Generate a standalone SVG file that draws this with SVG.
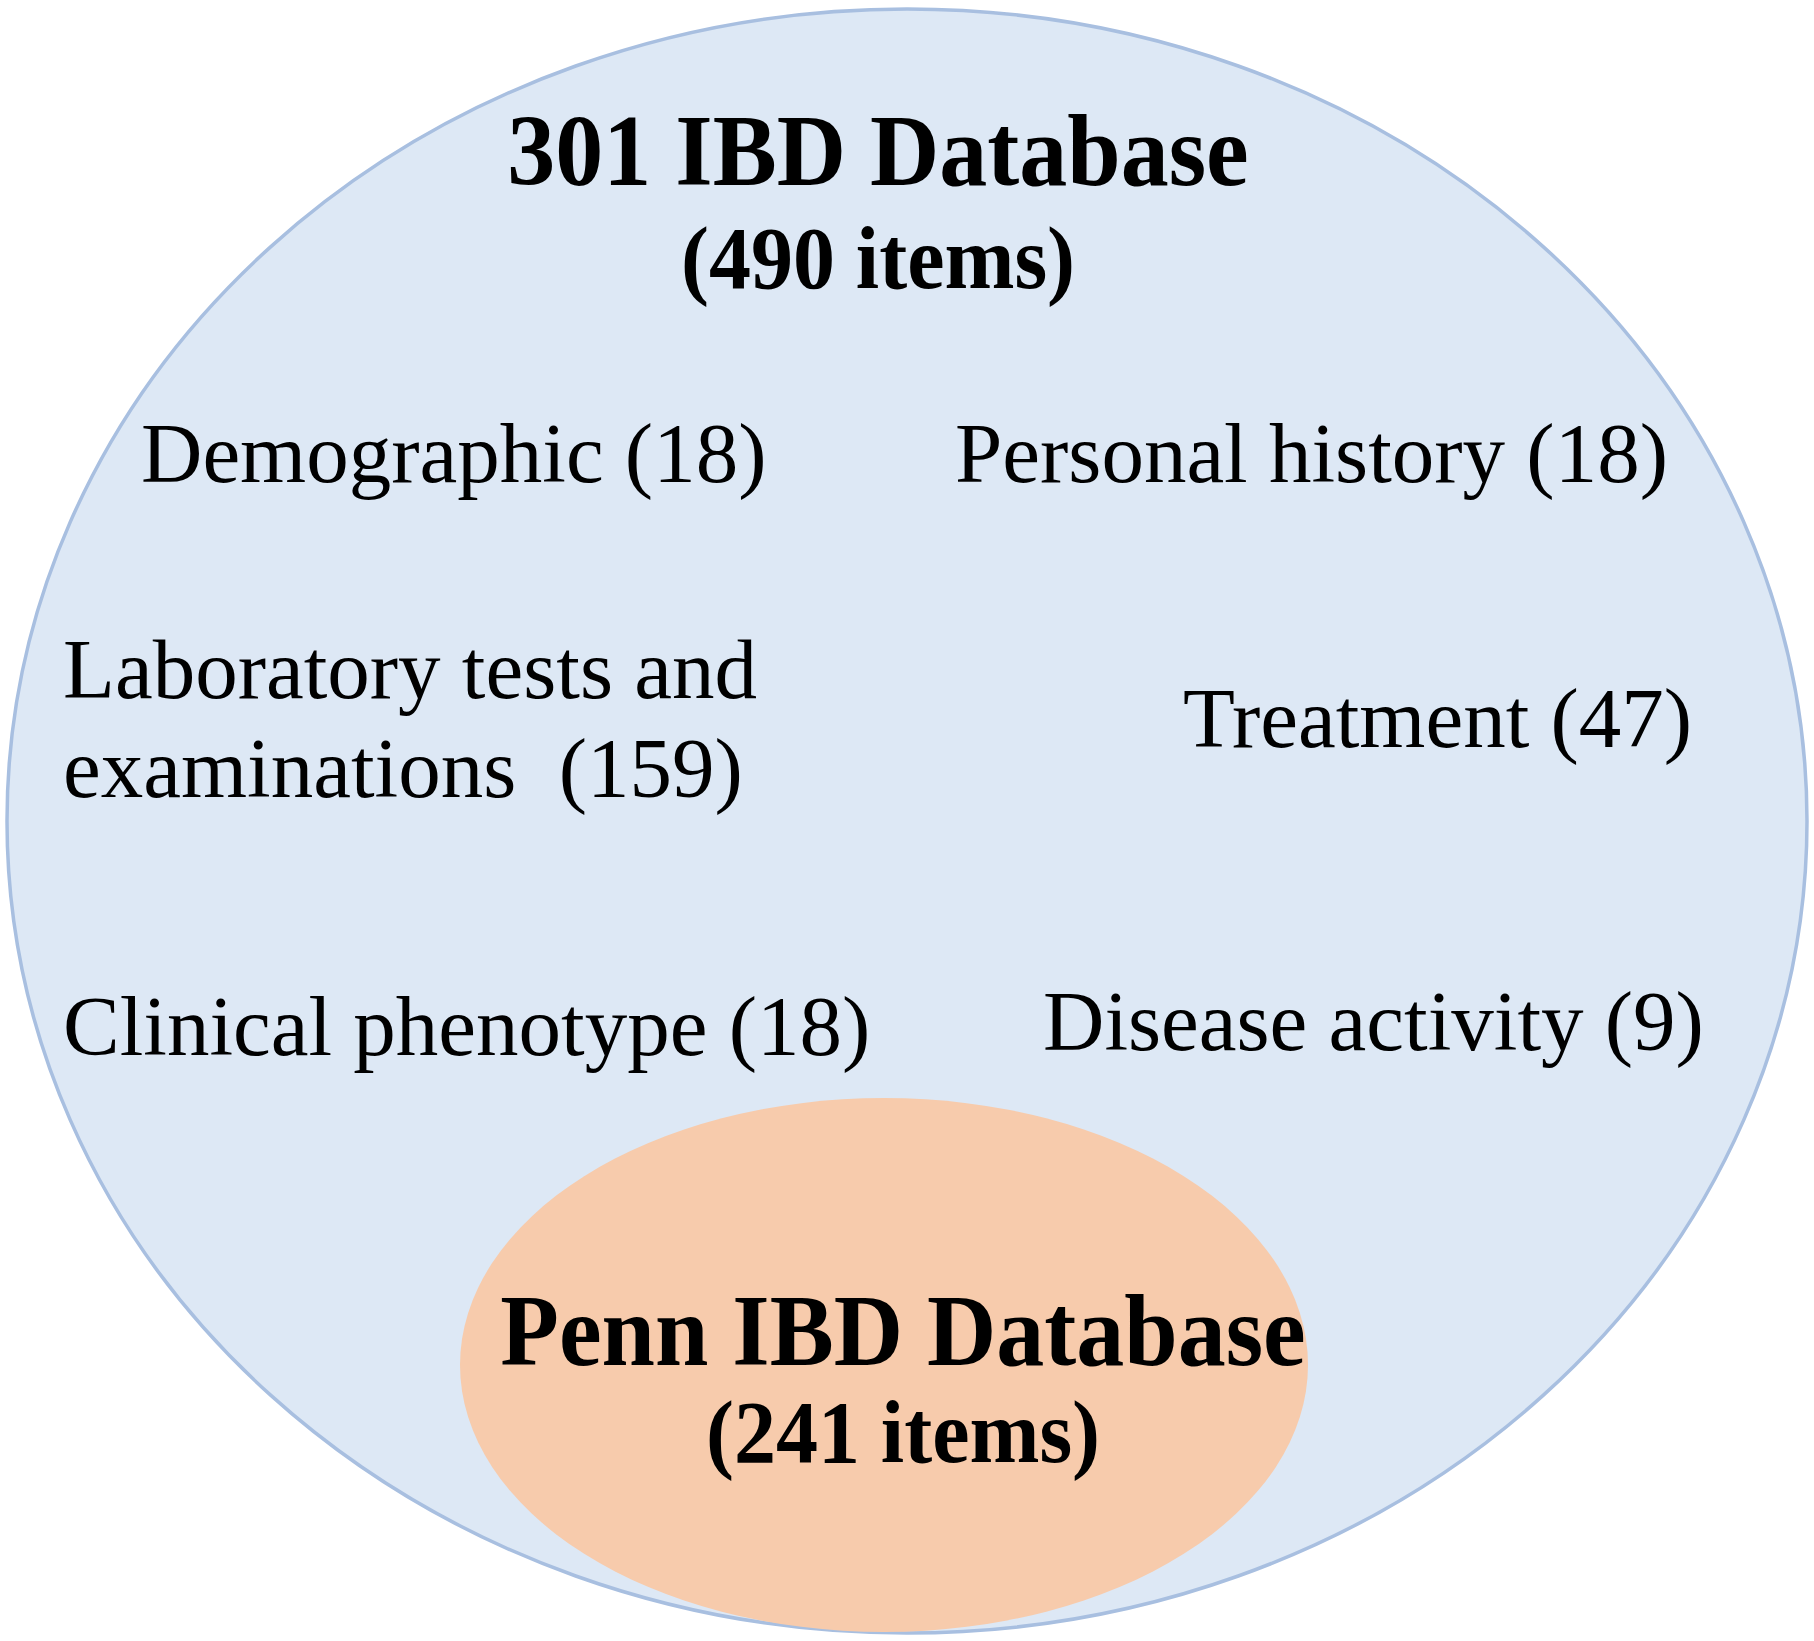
<svg xmlns="http://www.w3.org/2000/svg" width="1814" height="1641" viewBox="0 0 1814 1641">
<style>
.t{font-family:"Liberation Serif","Times New Roman",serif;fill:#000;white-space:pre}
.r{font-size:85px}
.b{font-weight:bold}
</style>
<rect width="1814" height="1641" fill="#ffffff"/>
<g id="ibd301">
<ellipse cx="907" cy="821" rx="900" ry="812" fill="#dde8f5" stroke="#a8bfe0" stroke-width="3.5"/>
<text class="t b" x="878" y="185" font-size="96" text-anchor="middle" transform="translate(0,185) scale(1,1.06) translate(0,-185)">301 IBD Database</text>
<text class="t b" x="878" y="288" font-size="84" text-anchor="middle" transform="translate(0,288) scale(1,1.06) translate(0,-288)">(490 items)</text>
</g>
<g id="cat-demographic"><text class="t r" x="141" y="482">Demographic (18)</text></g>
<g id="cat-personal"><text class="t r" x="955" y="482">Personal history (18)</text></g>
<g id="cat-lab"><text class="t r" x="63" y="698">Laboratory tests and</text><text class="t r" x="63" y="797">examinations  (159)</text></g>
<g id="cat-treatment"><text class="t r" x="1183" y="747">Treatment (47)</text></g>
<g id="cat-clinical"><text class="t r" x="63" y="1055">Clinical phenotype (18)</text></g>
<g id="cat-disease"><text class="t r" x="1043" y="1050">Disease activity (9)</text></g>
<g id="penn">
<ellipse cx="884" cy="1365" rx="424" ry="267" fill="#f7cbac"/>
<text class="t b" x="903" y="1365" font-size="96" text-anchor="middle" transform="translate(0,1365) scale(1,1.06) translate(0,-1365)">Penn IBD Database</text>
<text class="t b" x="903" y="1462" font-size="84" text-anchor="middle" transform="translate(0,1462) scale(1,1.06) translate(0,-1462)">(241 items)</text>
</g>
<g id="connectors"></g>
</svg>
